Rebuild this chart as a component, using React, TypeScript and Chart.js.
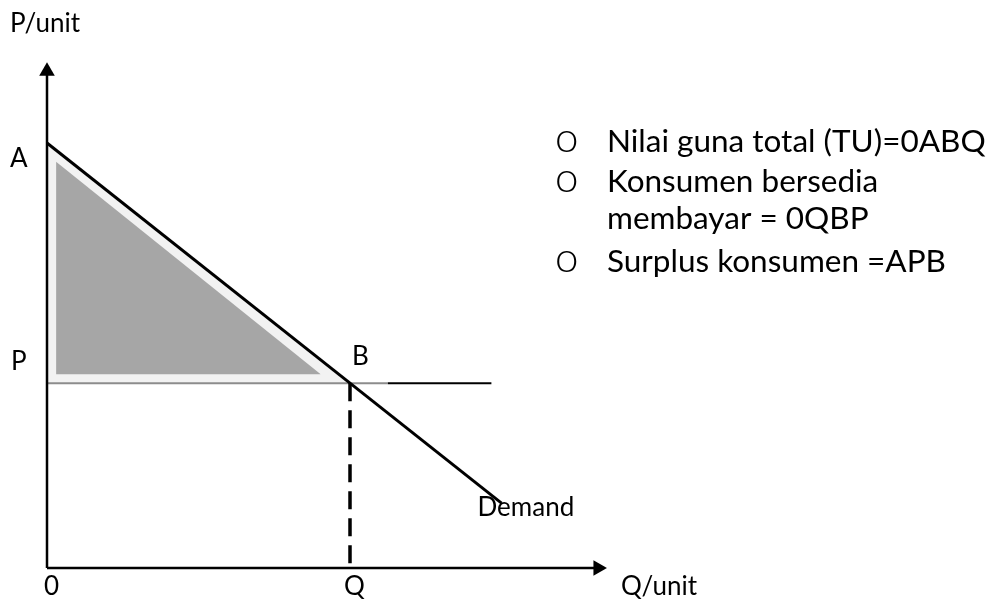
import React, { useEffect, useRef } from "react";
import { Chart, registerables } from "chart.js";

Chart.register(...registerables);

// ---- data (diagram units) ----
const priceA = 10;
const priceP = 4.35;
const quantityQ = 6;
const demandEndQ = 9;
const demandEndP = 1.525;
const priceLineEnd = 8.8;
const priceLineGrayEnd = 6.75;
const yAxisTop = 11.69;
const xAxisEnd = 10.91;
const innerTriangle = { x0: 0.18, yTop: 9.56, x1: 5.42, yBottom: 4.56 };

const labels = ["P/unit", "A", "P", "B", "0", "Q", "Q/unit", "Demand"];
const notes = [
  { bullet: true, text: "Nilai guna total (TU)=0ABQ" },
  { bullet: true, text: "Konsumen bersedia" },
  { bullet: false, text: "membayar = 0QBP" },
  { bullet: true, text: "Surplus konsumen =APB" },
];

const W = 987;
const H = 601;

const textPlugin = {
  id: "diagramText",
  afterDraw(chart: any) {
    const { ctx, scales } = chart;
    const xs = scales.x;
    const ys = scales.y;
    const px = (v: number) => xs.getPixelForValue(v);
    const py = (v: number) => ys.getPixelForValue(v);
    ctx.save();
    ctx.fillStyle = "#000";
    ctx.textBaseline = "alphabetic";
    ctx.textAlign = "left";
    ctx.font = "26px Lato";
    const x0 = px(0);
    const y0 = py(0);
    ctx.fillText(labels[0], 10, 32);
    ctx.fillText(labels[1], x0 - 37, py(priceA) + 24);
    ctx.fillText(labels[2], x0 - 36, py(priceP) - 13);
    ctx.fillText(labels[3], px(quantityQ) + 2, py(priceP) - 18);
    ctx.fillText(labels[4], x0 - 3, y0 + 27);
    ctx.fillText(labels[5], px(quantityQ) - 6, y0 + 27);
    ctx.fillText(labels[6], px(xAxisEnd) + 23, y0 + 27);
    ctx.fillText(labels[7], px(demandEndQ) - 24, py(demandEndP) + 13);

    const baselines = [152, 192, 229, 272];
    notes.forEach((n, i) => {
      if (n.bullet) {
        ctx.font = "300 42px Lato";
        ctx.fillText("o", 555, baselines[i]);
      }
      ctx.font = "31.5px Lato";
      ctx.fillText(n.text, 607, baselines[i]);
    });
    ctx.restore();
  },
};

export default function App() {
  const ref = useRef<HTMLCanvasElement | null>(null);

  useEffect(() => {
    if (!ref.current) return;
    const black = "#000000";
    const chart = new Chart(ref.current, {
      type: "scatter",
      data: {
        datasets: [
          {
            // y axis with arrow
            data: [
              { x: 0, y: 0 },
              { x: 0, y: yAxisTop },
            ],
            showLine: true,
            borderColor: black,
            borderWidth: 2.5,
            pointStyle: "triangle",
            pointRadius: [0, 9],
            pointRotation: 0,
            backgroundColor: black,
            pointBorderWidth: 0,
          },
          {
            // x axis with arrow
            data: [
              { x: 0, y: 0 },
              { x: xAxisEnd, y: 0 },
            ],
            showLine: true,
            borderColor: black,
            borderWidth: 2.5,
            pointStyle: "triangle",
            pointRadius: [0, 9],
            pointRotation: 90,
            backgroundColor: black,
            pointBorderWidth: 0,
          },
          {
            // demand line
            data: [
              { x: 0, y: priceA },
              { x: quantityQ, y: priceP },
              { x: demandEndQ, y: demandEndP },
            ],
            showLine: true,
            borderColor: black,
            borderWidth: 3,
            pointRadius: 0,
          },
          {
            // dashed Q line
            data: [
              { x: quantityQ, y: priceP },
              { x: quantityQ, y: 0 },
            ],
            showLine: true,
            borderColor: black,
            borderWidth: 3.5,
            borderDash: [18, 9],
            pointRadius: 0,
          },
          {
            // price line right part
            data: [
              { x: priceLineGrayEnd, y: priceP },
              { x: priceLineEnd, y: priceP },
            ],
            showLine: true,
            borderColor: black,
            borderWidth: 2,
            pointRadius: 0,
          },
          {
            // price line left part (under shading)
            data: [
              { x: 0, y: priceP },
              { x: priceLineGrayEnd, y: priceP },
            ],
            showLine: true,
            borderColor: "#8c8c8c",
            borderWidth: 2,
            pointRadius: 0,
          },
          {
            // inner dark triangle
            data: [
              { x: innerTriangle.x0, y: innerTriangle.yTop },
              { x: innerTriangle.x1, y: innerTriangle.yBottom },
            ],
            showLine: true,
            borderColor: "rgba(0,0,0,0)",
            borderWidth: 0,
            backgroundColor: "#a6a6a6",
            fill: { value: innerTriangle.yBottom },
            pointRadius: 0,
          },
          {
            // outer light triangle
            data: [
              { x: 0, y: priceA },
              { x: quantityQ, y: priceP },
            ],
            showLine: true,
            borderColor: "rgba(0,0,0,0)",
            borderWidth: 0,
            backgroundColor: "#f2f2f2",
            fill: { value: priceP },
            pointRadius: 0,
          },
        ],
      },
      options: {
        animation: false,
        responsive: false,
        maintainAspectRatio: false,
        layout: { padding: 0, autoPadding: false },
        plugins: {
          legend: { display: false },
          tooltip: { enabled: false },
          title: { display: false },
        },
        scales: {
          x: { type: "linear", display: false, min: -47 / 50.5, max: (W - 47) / 50.5 },
          y: { type: "linear", display: false, min: -(H - 568) / 42.5, max: 568 / 42.5 },
        },
      },
      plugins: [textPlugin],
    } as any);
    return () => chart.destroy();
  }, []);

  return (
    <div style={{ position: "fixed", left: 0, top: 0, width: W, height: H, background: "#fff" }}>
      <canvas ref={ref} width={W} height={H} style={{ width: W, height: H, display: "block" }} />
    </div>
  );
}
